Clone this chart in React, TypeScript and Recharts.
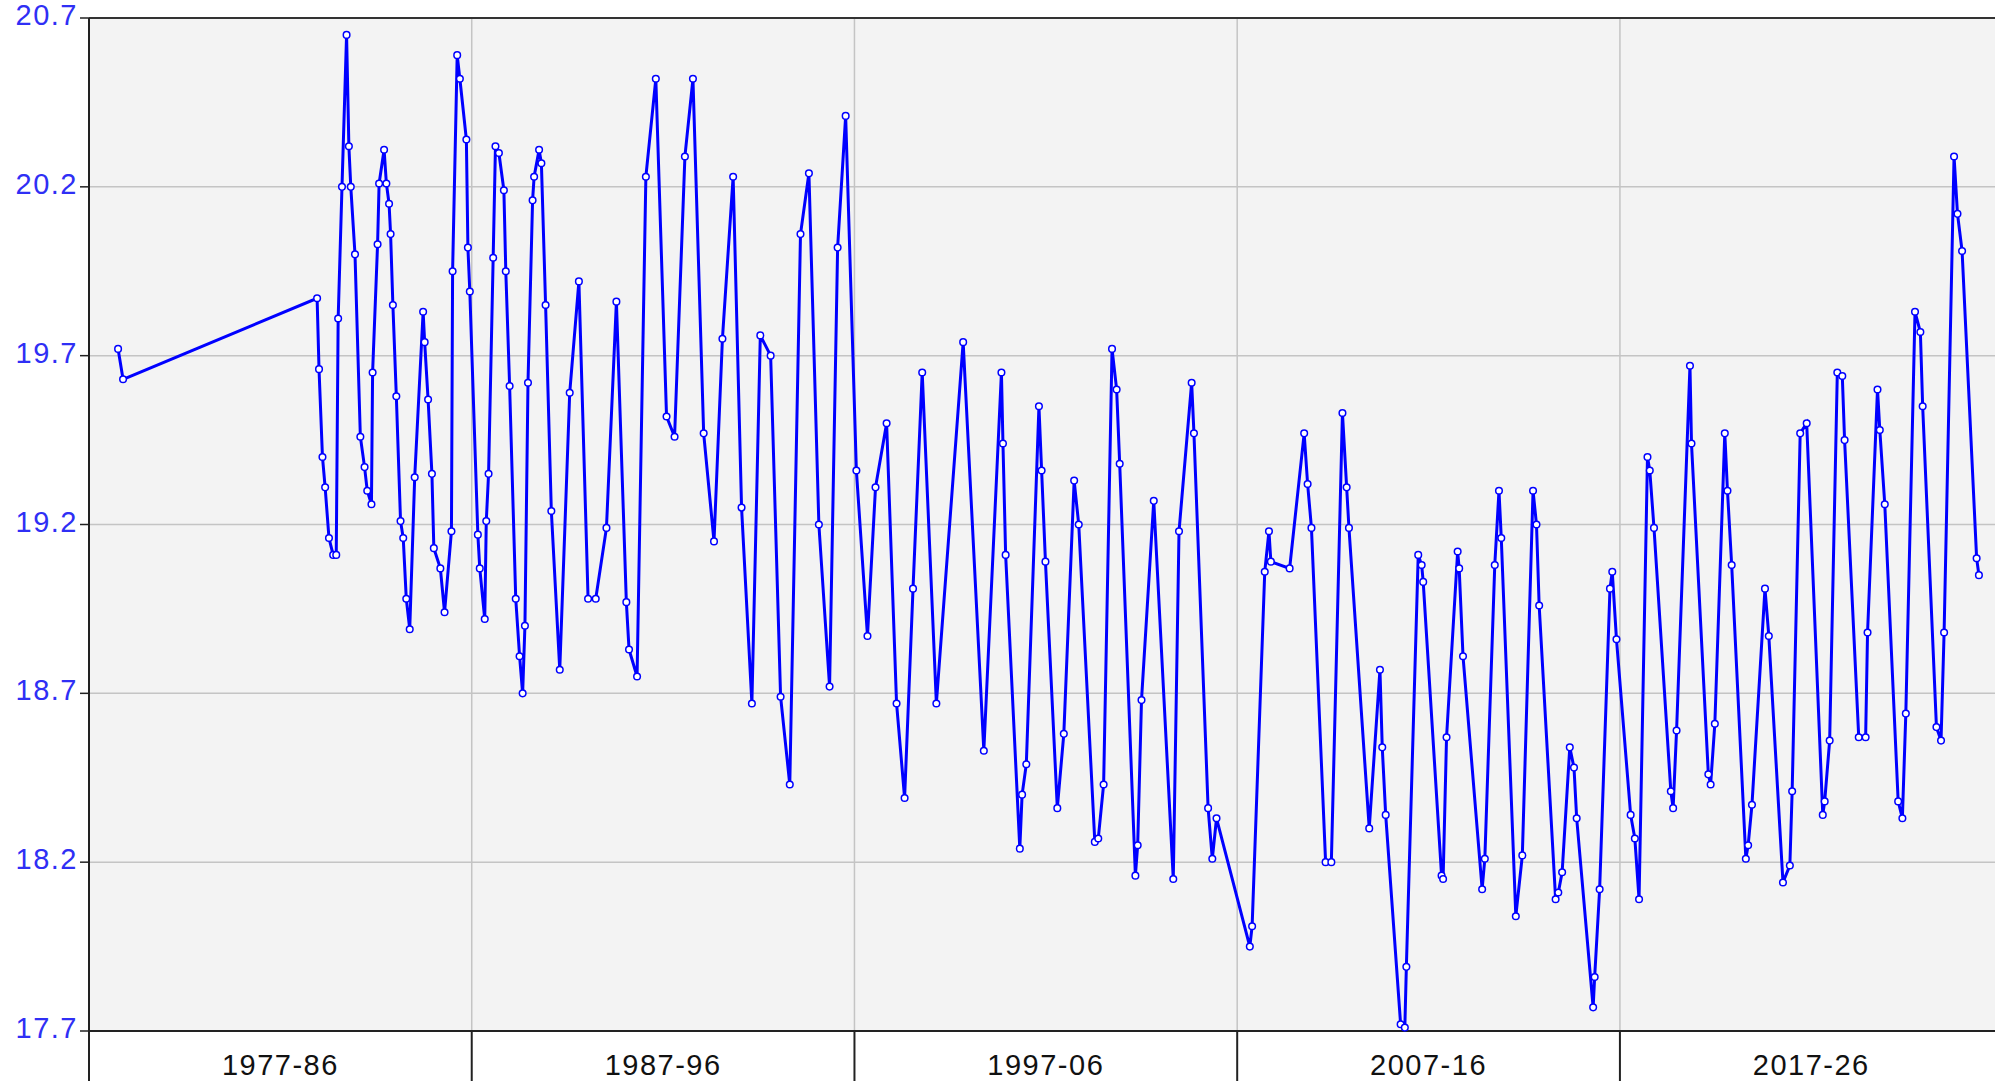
import React from 'react'
import {
  CartesianGrid,
  Line,
  LineChart,
  ReferenceLine,
  XAxis,
  YAxis,
} from 'recharts'

const obsTimes = [
  1977.76, 1977.89, 1982.96, 1983.01, 1983.10, 1983.17, 1983.27, 1983.38, 1983.46, 1983.51,
  1983.61, 1983.73, 1983.79, 1983.84, 1983.95, 1984.09, 1984.20, 1984.27, 1984.38, 1984.41,
  1984.54, 1984.58, 1984.71, 1984.77, 1984.84, 1984.88, 1984.94, 1985.03, 1985.14, 1985.21,
  1985.29, 1985.38, 1985.51, 1985.73, 1985.77, 1985.86, 1985.96, 1986.01, 1986.18, 1986.29,
  1986.47, 1986.50, 1986.62, 1986.69, 1986.86, 1986.90, 1986.95, 1987.16, 1987.21, 1987.34,
  1987.38, 1987.44, 1987.56, 1987.62, 1987.71, 1987.84, 1987.89, 1987.99, 1988.15, 1988.25,
  1988.33, 1988.39, 1988.47, 1988.59, 1988.63, 1988.76, 1988.82, 1988.93, 1989.08, 1989.30,
  1989.56, 1989.80, 1990.04, 1990.24, 1990.52, 1990.78, 1991.04, 1991.11, 1991.32, 1991.55,
  1991.81, 1992.09, 1992.30, 1992.57, 1992.78, 1993.06, 1993.33, 1993.55, 1993.83, 1994.05,
  1994.32, 1994.54, 1994.81, 1995.07, 1995.31, 1995.59, 1995.81, 1996.07, 1996.35, 1996.56,
  1996.77, 1997.05, 1997.34, 1997.55, 1997.84, 1998.10, 1998.31, 1998.53, 1998.77, 1999.14,
  1999.84, 2000.38, 2000.84, 2000.88, 2000.95, 2001.32, 2001.38, 2001.49, 2001.82, 2001.89,
  2001.99, 2002.30, 2002.47, 2002.74, 2002.86, 2003.28, 2003.37, 2003.51, 2003.73, 2003.85,
  2003.93, 2004.34, 2004.40, 2004.50, 2004.82, 2005.33, 2005.48, 2005.81, 2005.87, 2006.24,
  2006.35, 2006.46, 2007.33, 2007.39, 2007.72, 2007.83, 2007.88, 2008.37, 2008.75, 2008.84,
  2008.94, 2009.31, 2009.46, 2009.75, 2009.86, 2009.92, 2010.45, 2010.73, 2010.79, 2010.88,
  2011.27, 2011.38, 2011.42, 2011.73, 2011.82, 2011.86, 2012.34, 2012.38, 2012.47, 2012.76,
  2012.80, 2012.90, 2013.40, 2013.47, 2013.73, 2013.84, 2013.90, 2014.28, 2014.45, 2014.73,
  2014.82, 2014.89, 2015.32, 2015.39, 2015.49, 2015.69, 2015.80, 2015.87, 2016.30, 2016.34,
  2016.47, 2016.74, 2016.80, 2016.91, 2017.28, 2017.39, 2017.50, 2017.72, 2017.78, 2017.89,
  2018.33, 2018.39, 2018.48, 2018.83, 2018.87, 2019.31, 2019.37, 2019.48, 2019.74, 2019.81,
  2019.92, 2020.29, 2020.35, 2020.45, 2020.79, 2020.89, 2021.26, 2021.44, 2021.50, 2021.71,
  2021.88, 2022.30, 2022.35, 2022.48, 2022.68, 2022.81, 2022.87, 2023.24, 2023.42, 2023.47,
  2023.73, 2023.79, 2023.92, 2024.27, 2024.38, 2024.47, 2024.71, 2024.85, 2024.91, 2025.27,
  2025.39, 2025.47, 2025.73, 2025.82, 2025.94, 2026.32, 2026.38,
]

const levels = [
  19.72, 19.63, 19.87, 19.66, 19.40, 19.31, 19.16, 19.11, 19.11, 19.81,
  20.20, 20.65, 20.32, 20.20, 20.00, 19.46, 19.37, 19.30, 19.26, 19.65,
  20.03, 20.21, 20.31, 20.21, 20.15, 20.06, 19.85, 19.58, 19.21, 19.16,
  18.98, 18.89, 19.34, 19.83, 19.74, 19.57, 19.35, 19.13, 19.07, 18.94,
  19.18, 19.95, 20.59, 20.52, 20.34, 20.02, 19.89, 19.17, 19.07, 18.92,
  19.21, 19.35, 19.99, 20.32, 20.30, 20.19, 19.95, 19.61, 18.98, 18.81,
  18.70, 18.90, 19.62, 20.16, 20.23, 20.31, 20.27, 19.85, 19.24, 18.77,
  19.59, 19.92, 18.98, 18.98, 19.19, 19.86, 18.97, 18.83, 18.75, 20.23,
  20.52, 19.52, 19.46, 20.29, 20.52, 19.47, 19.15, 19.75, 20.23, 19.25,
  18.67, 19.76, 19.70, 18.69, 18.43, 20.06, 20.24, 19.20, 18.72, 20.02,
  20.41, 19.36, 18.87, 19.31, 19.50, 18.67, 18.39, 19.01, 19.65, 18.67,
  19.74, 18.53, 19.65, 19.44, 19.11, 18.24, 18.40, 18.49, 19.55, 19.36,
  19.09, 18.36, 18.58, 19.33, 19.20, 18.26, 18.27, 18.43, 19.72, 19.60,
  19.38, 18.16, 18.25, 18.68, 19.27, 18.15, 19.18, 19.62, 19.47, 18.36,
  18.21, 18.33, 17.95, 18.01, 19.06, 19.18, 19.09, 19.07, 19.47, 19.32,
  19.19, 18.20, 18.20, 19.53, 19.31, 19.19, 18.30, 18.77, 18.54, 18.34,
  17.72, 17.71, 17.89, 19.11, 19.08, 19.03, 18.16, 18.15, 18.57, 19.12,
  19.07, 18.81, 18.12, 18.21, 19.08, 19.30, 19.16, 18.04, 18.22, 19.30,
  19.20, 18.96, 18.09, 18.11, 18.17, 18.54, 18.48, 18.33, 17.77, 17.86,
  18.12, 19.01, 19.06, 18.86, 18.34, 18.27, 18.09, 19.40, 19.36, 19.19,
  18.41, 18.36, 18.59, 19.67, 19.44, 18.46, 18.43, 18.61, 19.47, 19.30,
  19.08, 18.21, 18.25, 18.37, 19.01, 18.87, 18.14, 18.19, 18.41, 19.47,
  19.50, 18.34, 18.38, 18.56, 19.65, 19.64, 19.45, 18.57, 18.57, 18.88,
  19.60, 19.48, 19.26, 18.38, 18.33, 18.64, 19.83, 19.77, 19.55, 18.60,
  18.56, 18.88, 20.29, 20.12, 20.01, 19.10, 19.05,
]

const yTicks = [17.7, 18.2, 18.7, 19.2, 19.7, 20.2, 20.7]
// decade boundaries and the years the decade labels sit on
const decadeStarts = [1977, 1987, 1997, 2007, 2017]
const labelYears = [1982, 1992, 2002, 2012, 2022]

const data = obsTimes.map((t, i) => ({ t, level: levels[i] }))

const FONT = 'Arial, "Liberation Sans", sans-serif'

function decadeLabel(mid: number) {
  const start = mid - 5
  const end = (start + 9) % 100
  return `${start}-${String(end).padStart(2, '0')}`
}

function XTick(props: any) {
  const { x, y, payload } = props
  const v = payload.value
  if (decadeStarts.includes(v)) {
    return <line x1={x} x2={x} y1={y} y2={y + 52} stroke="#222" strokeWidth={2} />
  }
  return (
    <text
      x={x}
      y={y + 44}
      textAnchor="middle"
      fontSize={29}
      letterSpacing={1.5}
      fontFamily={FONT}
      fill="#111"
    >
      {decadeLabel(v)}
    </text>
  )
}

function YTick(props: any) {
  const { x, y, payload } = props
  return (
    <text
      x={x}
      y={y + 7}
      textAnchor="end"
      fontSize={29}
      letterSpacing={1.5}
      fontFamily={FONT}
      fill="#2f2ff5"
    >
      {payload.value.toFixed(1)}
    </text>
  )
}

export default function App() {
  return (
    <div style={{ width: 1995, height: 1081, background: '#fff' }}>
      <style>{'body{margin:0}'}</style>
      <LineChart
        width={1995}
        height={1081}
        data={data}
        margin={{ top: 18, right: 0, bottom: 0, left: 0 }}
      >
        <CartesianGrid
          fill="#f3f3f3"
          stroke="#c4c4c4"
          strokeWidth={1.5}
          verticalValues={[1987, 1997, 2007, 2017]}
        />
        <XAxis
          dataKey="t"
          type="number"
          domain={[1977, 2026.8]}
          allowDataOverflow
          ticks={[...decadeStarts, ...labelYears].sort((a, b) => a - b)}
          interval={0}
          tickSize={0}
          tickMargin={0}
          tickLine={false}
          height={50}
          axisLine={{ stroke: '#222', strokeWidth: 2 }}
          tick={<XTick />}
        />
        <YAxis
          type="number"
          domain={[17.7, 20.7]}
          ticks={yTicks}
          interval={0}
          width={89}
          tickSize={9}
          tickMargin={2}
          tickLine={{ stroke: '#222', strokeWidth: 1.5 }}
          axisLine={{ stroke: '#222', strokeWidth: 2 }}
          tick={<YTick />}
        />
        <ReferenceLine y={20.7} stroke="#333" strokeWidth={2} />
        <Line
          type="linear"
          dataKey="level"
          stroke="#0000ff"
          strokeWidth={3}
          dot={{ r: 3.3, fill: '#ffffff', stroke: '#0000ff', strokeWidth: 1.5 }}
          isAnimationActive={false}
        />
      </LineChart>
    </div>
  )
}
